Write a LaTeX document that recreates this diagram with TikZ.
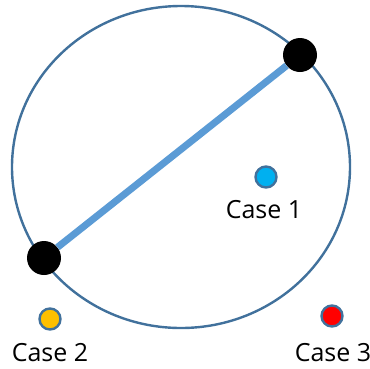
\documentclass[tikz,border=0pt]{standalone}
\usepackage{fontspec}
\setmainfont{Open Sans}
\definecolor{ringblue}{HTML}{41719C}
\definecolor{chordblue}{HTML}{5B9BD5}
\definecolor{caseone}{HTML}{00B0F0}
\definecolor{casetwo}{HTML}{FFC000}
\definecolor{casethree}{HTML}{FF0000}
\tikzset{
  endpt/.style={circle, fill=black, minimum size=34pt, inner sep=0pt},
  casedot/.style={circle, draw=ringblue, line width=2.4pt, minimum size=21pt, inner sep=0pt},
  caselabel/.style={font=\fontsize{25}{28}\selectfont, text=black, inner sep=0pt}
}
\begin{document}
\begin{tikzpicture}[x=1pt,y=-1pt]
\useasboundingbox (0,0) rectangle (370,368);
\draw[ringblue, line width=2.4pt] (181,167) ellipse [x radius=169, y radius=161];
\node[endpt] (A) at (300,55) {};
\node[endpt] (B) at (44,258) {};
\draw[chordblue, line width=7pt] (A) -- (B);
\node[casedot, fill=caseone] (c1) at (266,177) {};
\node[casedot, fill=casetwo] (c2) at (50,319) {};
\node[casedot, fill=casethree] (c3) at (332,316) {};
\node[caselabel] (l1) at (264,210) {Case 1};
\node[caselabel] (l2) at (50,353) {Case 2};
\node[caselabel] (l3) at (333,353) {Case 3};
\end{tikzpicture}
\end{document}
